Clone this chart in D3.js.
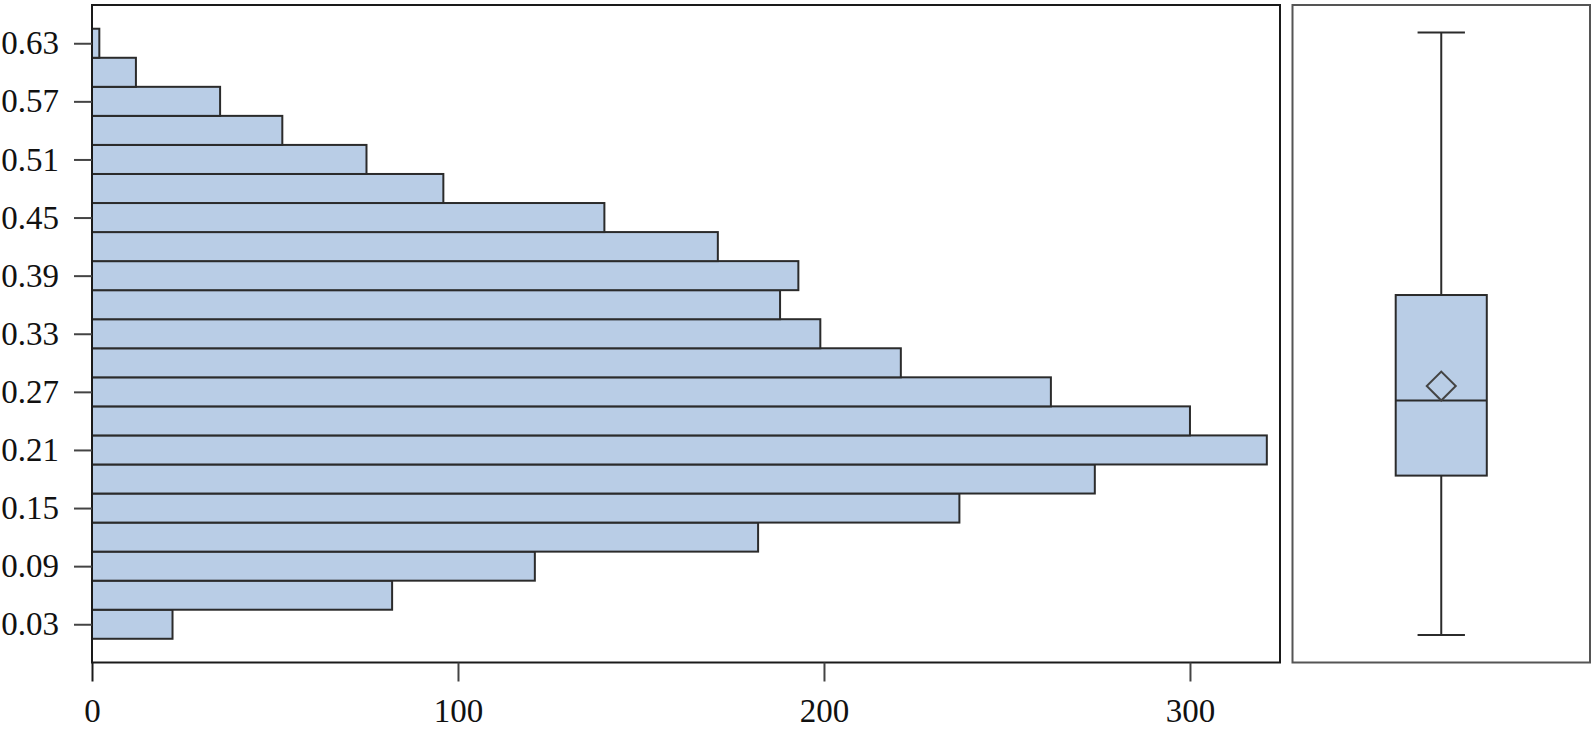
<!DOCTYPE html>
<html>
<head>
<meta charset="utf-8">
<script src="https://cdn.jsdelivr.net/npm/d3@7"></script>
<style>
  body { margin: 0; background: #fff; }
  text { font-family: "Liberation Serif", "Times New Roman", serif; }
</style>
</head>
<body>
<svg id="grafica"></svg>
<script>
const svg_w = 1595; // svg width
const svg_h = 729;  // svg height

// histogram bins (centre of each 0.03-wide bin) and their counts
const bin_mid = [0.03, 0.06, 0.09, 0.12, 0.15, 0.18, 0.21, 0.24, 0.27, 0.30, 0.33,
                 0.36, 0.39, 0.42, 0.45, 0.48, 0.51, 0.54, 0.57, 0.60, 0.63];
const counts  = [22, 82, 121, 182, 237, 274, 321, 300, 262, 221, 199,
                 188, 193, 171, 140, 96, 75, 52, 35, 12, 2];
const bin_w = 0.03;

// tick labels
const y_ticks = [0.03, 0.09, 0.15, 0.21, 0.27, 0.33, 0.39, 0.45, 0.51, 0.57, 0.63];
const x_ticks = [0, 100, 200, 300];

// box plot: whisker low, Q1, median, Q3, whisker high, and the mean
const box_stats = [0.019, 0.1835, 0.261, 0.37, 0.641];
const box_mean = 0.276;

// panel layout
const hist_panel = {l: 92, r: 1280, t: 5, b: 662.5};
const box_panel = {l: 1292.5, r: 1590, t: 5, b: 662.5};

let svg = d3.select("#grafica")
  .attr("width", svg_w)
  .attr("height", svg_h)

let x_scale = d3.scaleLinear()
  .domain([0, 324.6])
  .range([hist_panel.l, hist_panel.r])

let y_scale = d3.scaleLinear()
  .domain([-0.0095, 0.6695])
  .range([hist_panel.b, hist_panel.t])

let data = bin_mid.map((m, i) => ({mid: m, count: counts[i]}));

// histogram bars
svg.append("g")
  .selectAll("rect")
  .data(data)
  .enter()
  .append("rect")
  .attr("x", x_scale(0))
  .attr("y", d => y_scale(d.mid + bin_w / 2))
  .attr("width", d => x_scale(d.count) - x_scale(0))
  .attr("height", d => y_scale(d.mid - bin_w / 2) - y_scale(d.mid + bin_w / 2))
  .attr("fill", "#b9cde6")
  .attr("stroke", "#2b2b2b")
  .attr("stroke-width", 2)

// frame of the histogram panel
svg.append("rect")
  .attr("x", hist_panel.l)
  .attr("y", hist_panel.t)
  .attr("width", hist_panel.r - hist_panel.l)
  .attr("height", hist_panel.b - hist_panel.t)
  .attr("fill", "none")
  .attr("stroke", "#1a1a1a")
  .attr("stroke-width", 2)

// axes
let x_axis = svg.append("g")
  .attr("transform", `translate(0,${hist_panel.b})`)
  .call(d3.axisBottom(x_scale).tickValues(x_ticks).tickSize(19).tickPadding(17))
x_axis.select(".domain").remove()

let y_axis = svg.append("g")
  .attr("transform", `translate(${hist_panel.l},0)`)
  .call(d3.axisLeft(y_scale).tickValues(y_ticks).tickSize(18).tickPadding(15)
    .tickFormat(d3.format(".2f")))
y_axis.select(".domain").remove()

svg.selectAll(".tick line")
  .attr("stroke", "#444")
  .attr("stroke-width", 2)
svg.selectAll(".tick text")
  .attr("font-size", 33)
  .attr("fill", "#111")
x_axis.selectAll(".tick line").filter(d => d == 0).attr("stroke", "#1a1a1a")

// box plot panel
let box_x = d3.scaleBand()
  .domain(["value"])
  .range([box_panel.l, box_panel.r])
  .paddingOuter(1.133)

svg.append("rect")
  .attr("x", box_panel.l)
  .attr("y", box_panel.t)
  .attr("width", box_panel.r - box_panel.l)
  .attr("height", box_panel.b - box_panel.t)
  .attr("fill", "none")
  .attr("stroke", "#555")
  .attr("stroke-width", 2)

let bx = box_x("value");
let bw = box_x.bandwidth();
let cx = bx + bw / 2;
let cap = bw * 0.26;

let box = svg.append("g")
  .attr("stroke", "#2b2b2b")
  .attr("stroke-width", 2)

// whiskers
box.append("line")
  .attr("x1", cx).attr("x2", cx)
  .attr("y1", y_scale(box_stats[0])).attr("y2", y_scale(box_stats[1]))
box.append("line")
  .attr("x1", cx).attr("x2", cx)
  .attr("y1", y_scale(box_stats[3])).attr("y2", y_scale(box_stats[4]))
box.selectAll(".cap")
  .data([box_stats[0], box_stats[4]])
  .enter()
  .append("line")
  .attr("class", "cap")
  .attr("x1", cx - cap).attr("x2", cx + cap)
  .attr("y1", d => y_scale(d)).attr("y2", d => y_scale(d))

// box and median
box.append("rect")
  .attr("x", bx)
  .attr("y", y_scale(box_stats[3]))
  .attr("width", bw)
  .attr("height", y_scale(box_stats[1]) - y_scale(box_stats[3]))
  .attr("fill", "#b9cde6")
box.append("line")
  .attr("x1", bx).attr("x2", bx + bw)
  .attr("y1", y_scale(box_stats[2])).attr("y2", y_scale(box_stats[2]))

// mean marker
box.append("path")
  .attr("transform", `translate(${cx},${y_scale(box_mean)}) rotate(45)`)
  .attr("d", d3.symbol().type(d3.symbolSquare).size(420))
  .attr("fill", "none")
  .attr("stroke", "#444")
</script>
</body>
</html>
